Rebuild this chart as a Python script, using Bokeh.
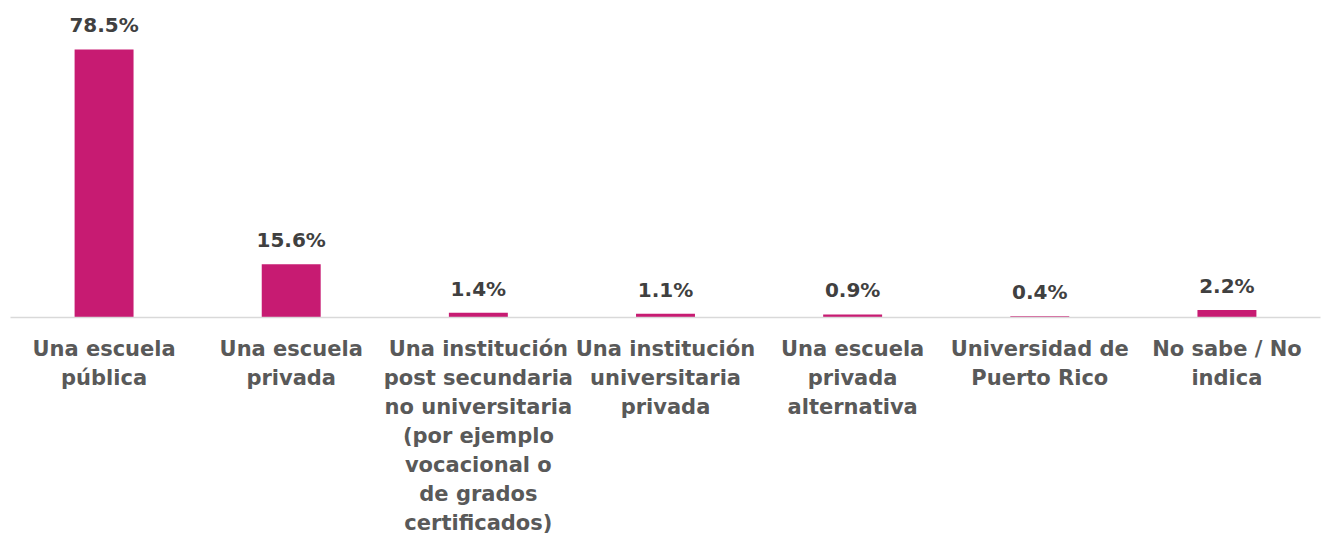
from bokeh.plotting import figure
from bokeh.models import ColumnDataSource, FactorRange, Range1d
from bokeh.core.properties import value
from bokeh.embed import file_html
from bokeh.resources import INLINE

categories = [
    "Una escuela\npública",
    "Una escuela\nprivada",
    "Una institución\npost secundaria\nno universitaria\n(por ejemplo\nvocacional o\nde grados\ncertificados)",
    "Una institución\nuniversitaria\nprivada",
    "Una escuela\nprivada\nalternativa",
    "Universidad de\nPuerto Rico",
    "No sabe / No\nindica",
]
values = [78.5, 15.6, 1.4, 1.1, 0.9, 0.4, 2.2]
value_text = ["78.5%", "15.6%", "1.4%", "1.1%", "0.9%", "0.4%", "2.2%"]

src = ColumnDataSource(dict(x=categories, top=values, txt=value_text))

p = figure(x_range=FactorRange(*categories), y_range=Range1d(0, 90.5),
           width=1322, height=538, output_backend="svg", toolbar_location=None,
           min_border_left=10, min_border_right=2, min_border_top=8, min_border_bottom=221)
p.outline_line_color = None
p.background_fill_color = "white"
p.border_fill_color = "white"
p.grid.visible = False
p.yaxis.visible = False
p.x_range.range_padding = 0.0

p.vbar(x="x", top="top", bottom=0, width=0.315, source=src,
       fill_color="#C71B72", line_color=None)
p.text(x="x", y="top", text="txt", source=src, y_offset=-24,
       text_align="center", text_baseline="alphabetic",
       text_font=value("DejaVu Sans"), text_font_style="bold", text_font_size="20px",
       text_color="#404040")

ax = p.xaxis[0]
ax.axis_line_color = "#D9D9D9"
ax.axis_line_width = 1.5
ax.major_tick_line_color = None
ax.minor_tick_line_color = None
ax.major_label_standoff = 13
ax.major_label_text_font = "DejaVu Sans"
ax.major_label_text_font_style = "bold"
ax.major_label_text_font_size = "21px"
ax.major_label_text_color = "#595959"
ax.major_label_text_line_height = 1.21
ax.major_label_orientation = "horizontal"

open("out.html", "w").write(file_html(p, INLINE))
